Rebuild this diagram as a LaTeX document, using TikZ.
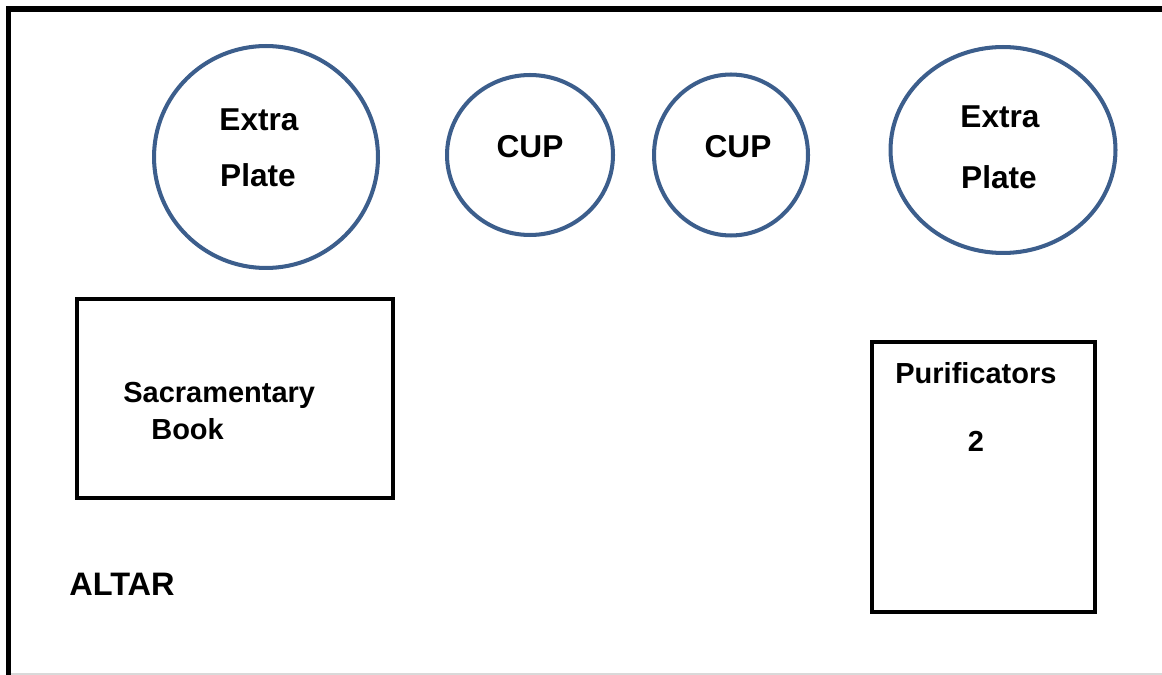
\documentclass[tikz,border=0pt]{standalone}
\usepackage{fontspec}
\setmainfont{Liberation Sans}
\usetikzlibrary{positioning}
\definecolor{plateblue}{HTML}{3C5E8C}
\tikzset{
    dish/.style={draw=plateblue, line width=2.3pt},
    box/.style={draw=black, line width=2.4pt},
    lbl/.style={font=\fontsize{16.5}{20}\selectfont\bfseries, inner sep=0pt, anchor=base},
    biglbl/.style={lbl, font=\fontsize{18}{22}\selectfont\bfseries},
}

\begin{document}
\begin{tikzpicture}[x=0.02cm,y=-0.02cm]
    \useasboundingbox (0,0) rectangle (1162,675);
    % frame of the altar
    \draw[line width=3.2pt] (8.5,675) -- (8.5,9) -- (1162,9);
    \draw[black!15, line width=0.6pt] (11,674) -- (1162,674);
    % plates and cups
    \draw[dish] (266,157) ellipse [x radius=2.24cm, y radius=2.22cm];
    \draw[dish] (530,155) ellipse [x radius=1.66cm, y radius=1.60cm];
    \draw[dish] (731,155) ellipse [x radius=1.54cm, y radius=1.61cm];
    \draw[dish] (1003,150) ellipse [x radius=2.25cm, y radius=2.06cm];
    \node[biglbl] (extraL) at (259,131) {Extra};
    \node[biglbl] (plateL) at (258,187) {Plate};
    \node[biglbl] (cupL) at (530,158) {CUP};
    \node[biglbl] (cupR) at (738,158) {CUP};
    \node[biglbl] (extraR) at (1000,128) {Extra};
    \node[biglbl] (plateR) at (999,189) {Plate};
    % book
    \draw[box] (77,299) rectangle (393,498);
    \node[lbl, anchor=base west] (sacr) at (123,402) {Sacramentary};
    \node[lbl, anchor=base west] (book) at (151,439) {Book};
    % purificators
    \draw[box] (872,342) rectangle (1095,612);
    \node[lbl, anchor=base west] (puri) at (895,383) {Purificators};
    \node[lbl] (two) at (976,451) {2};
    \node[biglbl, anchor=base west, font=\fontsize{18.5}{22}\selectfont\bfseries] (altar) at (69,595) {ALTAR};
\end{tikzpicture}
\end{document}
